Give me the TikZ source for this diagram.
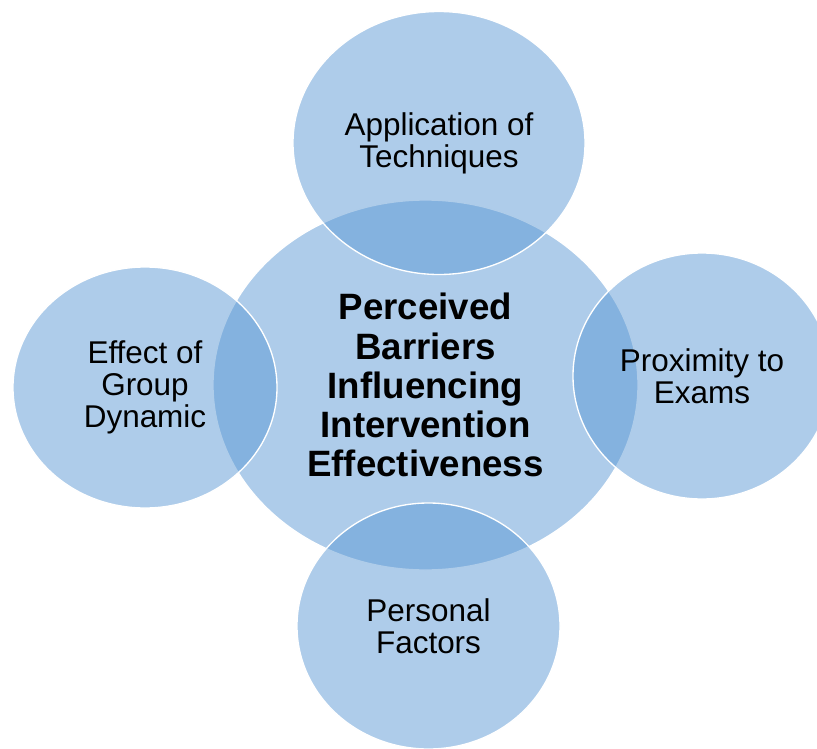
\documentclass[tikz,border=0pt]{standalone}
\usepackage{fontspec}
\setmainfont{Liberation Sans}
\usepackage{tikz}
\definecolor{bubbleblue}{RGB}{86,149,211}
\usetikzlibrary{shapes.geometric}

\tikzset{
  bubble/.style={ellipse, fill=bubbleblue, fill opacity=0.48, text opacity=1,
    draw=white, line width=1pt, inner sep=0pt, outer sep=0pt, align=center},
  sidetext/.style={font=\fontsize{23.6}{24}\selectfont},
  maintext/.style={font=\bfseries\fontsize{27.5}{29.3}\selectfont}
}

\begin{document}
\begin{tikzpicture}[x=0.75pt, y=-0.75pt]
            \useasboundingbox (0,0) rectangle (817,749);
            %
            \node[bubble, maintext, minimum width=425*0.75pt, minimum height=370*0.75pt] (barriers) at (425.5,385) {Perceived\\Barriers\\Influencing\\Intervention\\Effectiveness};

            % outer bubbles
            \node[bubble, sidetext, minimum width=292*0.75pt, minimum height=263*0.75pt] (techniques) at (439,143) {Application of\\Techniques};
            \node[bubble, sidetext, minimum width=258*0.75pt, minimum height=246*0.75pt] (exams) at (702,376) {Proximity to\\Exams};
            \node[bubble, sidetext, minimum width=263*0.75pt, minimum height=246*0.75pt] (personal) at (428.5,626) {Personal\\Factors};
            \node[bubble, sidetext, minimum width=264*0.75pt, minimum height=241*0.75pt] (group) at (145,387.5) {Effect of\\Group\\Dynamic};

\end{tikzpicture}
\end{document}
